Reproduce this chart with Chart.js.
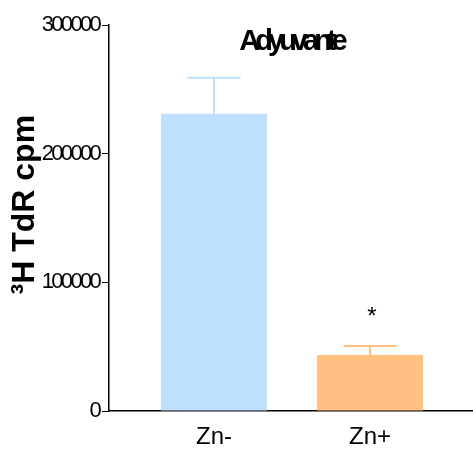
<!DOCTYPE html>
<html>
<head>
<meta charset="utf-8">
<script src="https://cdn.jsdelivr.net/npm/chart.js@4/dist/chart.umd.min.js"></script>
<style>
  html, body { margin: 0; padding: 0; background: #fff; }
  #chart { display: block; }
</style>
</head>
<body>
<canvas id="chart" width="473" height="449"></canvas>
<script>
const categories = ["Zn-", "Zn+"];
const means = [231000, 43500];
const errors = [28000, 7000];
const marks = ["", "*"];
const barColors = ["#BFDFFF", "#FFC080"];
const yTickStep = 100000;
const yMax = 300000;

// letterSpacing is not a Chart.js font option, so wrap the draw calls that need it
function withSpacing(obj, method, px) {
  if (!obj || obj["_sp_" + method]) return;
  const orig = obj[method];
  obj[method] = function (...args) {
    const ctx = this.ctx;
    ctx.save();
    ctx.letterSpacing = px;
    orig.apply(this, args);
    ctx.restore();
  };
  obj["_sp_" + method] = true;
}

const spacingPlugin = {
  id: "spacing",
  afterLayout(chart) {
    withSpacing(chart.scales.y, "drawLabels", "-2.7px");
    withSpacing(chart.titleBlock, "draw", "-5px");
  },
};

const errorBarPlugin = {
  id: "errorBars",
  afterDatasetsDraw(chart) {
    const { ctx, scales: { x, y } } = chart;
    const meta = chart.getDatasetMeta(0);
    ctx.save();
    means.forEach((m, i) => {
      const px = x.getPixelForValue(i);
      const yBar = y.getPixelForValue(m);
      const yTop = y.getPixelForValue(m + errors[i]);
      const half = meta.data[i].width / 4;
      ctx.strokeStyle = barColors[i];
      ctx.lineWidth = 2;
      ctx.beginPath();
      ctx.moveTo(px, yBar);
      ctx.lineTo(px, yTop);
      ctx.moveTo(px - half, yTop);
      ctx.lineTo(px + half, yTop);
      ctx.stroke();
      if (marks[i]) {
        ctx.fillStyle = "#000";
        ctx.font = "24px 'Liberation Sans', Arial, sans-serif";
        ctx.textAlign = "center";
        ctx.textBaseline = "alphabetic";
        ctx.fillText(marks[i], px + 2, yTop - 22);
      }
    });
    ctx.restore();
  },
};

Chart.defaults.font.family = "'Liberation Sans', Arial, sans-serif";
Chart.defaults.color = "#000";

new Chart(document.getElementById("chart"), {
  type: "bar",
  data: {
    datasets: [{
      data: means.map((v, i) => ({ x: i, y: v })),
      backgroundColor: barColors,
      borderWidth: 0,
      categoryPercentage: 1,
      barPercentage: 0.68,
    }],
  },
  options: {
    responsive: false,
    animation: false,
    layout: { padding: 0 },
    plugins: {
      legend: { display: false },
      tooltip: { enabled: false },
      title: {
        display: true,
        text: "Adyuvante",
        fullSize: false,
        color: "#000",
        font: { size: 29, weight: "bold" },
        padding: { top: 25, bottom: -34.8 },
      },
    },
    scales: {
      x: {
        type: "linear",
        offset: false,
        min: -0.673,
        max: 1.66,
        afterBuildTicks: (s) => { s.ticks = categories.map((c, i) => ({ value: i })); },
        afterFit: (s) => { s.height = 38; },
        grid: { display: true, drawOnChartArea: false, drawTicks: false },
        border: { color: "#000", width: 1.5 },
        ticks: {
          callback: (v) => categories[v],
          font: { size: 24 },
          padding: 12,
          maxRotation: 0,
        },
      },
      y: {
        min: 0,
        max: yMax,
        afterFit: (s) => { s.width = 109; },
        grid: { drawOnChartArea: false, drawTicks: true, tickLength: 7, color: "#000", lineWidth: 1 },
        border: { color: "#000", width: 1.5 },
        ticks: {
          stepSize: yTickStep,
          callback: (v) => String(v),
          font: { size: 22 },
          padding: 3,
        },
        title: {
          display: true,
          text: "   \u00B3H TdR cpm",
          font: { size: 32, weight: "bold" },
          padding: { top: 6, bottom: 0 },
        },
      },
    },
  },
  plugins: [spacingPlugin, errorBarPlugin],
});
</script>
</body>
</html>
